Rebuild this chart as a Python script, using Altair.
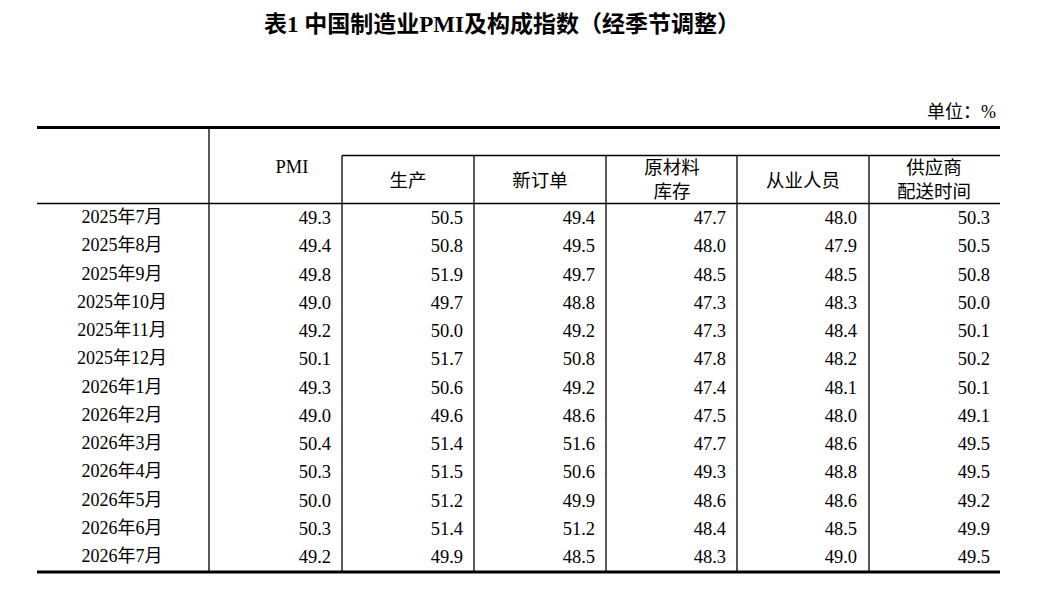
import altair as alt
import pandas as pd

# ---- data ----
months = ["2025年7月", "2025年8月", "2025年9月", "2025年10月", "2025年11月", "2025年12月",
          "2026年1月", "2026年2月", "2026年3月", "2026年4月", "2026年5月", "2026年6月", "2026年7月"]
pmi = [49.3, 49.4, 49.8, 49.0, 49.2, 50.1, 49.3, 49.0, 50.4, 50.3, 50.0, 50.3, 49.2]
production = [50.5, 50.8, 51.9, 49.7, 50.0, 51.7, 50.6, 49.6, 51.4, 51.5, 51.2, 51.4, 49.9]
new_orders = [49.4, 49.5, 49.7, 48.8, 49.2, 50.8, 49.2, 48.6, 51.6, 50.6, 49.9, 51.2, 48.5]
raw_inventory = [47.7, 48.0, 48.5, 47.3, 47.3, 47.8, 47.4, 47.5, 47.7, 49.3, 48.6, 48.4, 48.3]
employment = [48.0, 47.9, 48.5, 48.3, 48.4, 48.2, 48.1, 48.0, 48.6, 48.8, 48.6, 48.5, 49.0]
delivery = [50.3, 50.5, 50.8, 50.0, 50.1, 50.2, 50.1, 49.1, 49.5, 49.5, 49.2, 49.9, 49.5]
series = [pmi, production, new_orders, raw_inventory, employment, delivery]

title_text = "表1 中国制造业PMI及构成指数（经季节调整）"
unit_text = "单位：%"
headers = [["PMI"], ["生产"], ["新订单"], ["原材料", "库存"], ["从业人员"], ["供应商", "配送时间"]]

# ---- layout (pixel grid of the page) ----
FONT = "Liberation Serif, Noto Sans CJK SC, serif"
row_y0, row_step = 218, 28.25
col_right = [331, 463, 595, 726, 857, 990]
col_center = [292, 408, 540, 672, 803, 934]
col_edges = [342, 474, 606, 737, 869]
left, right = 37, 1000

xs = alt.Scale(domain=[8, 1039], zero=False, nice=False)
ys = alt.Scale(domain=[8, 588], zero=False, nice=False, reverse=True)

def X(f="x"):
    return alt.X(f"{f}:Q", scale=xs, axis=None)

def Y(f="y"):
    return alt.Y(f"{f}:Q", scale=ys, axis=None)

# rules
thick = pd.DataFrame({"x": [left, left], "x2": [right, right], "y": [127.5, 572], "y2": [127.5, 572]})
thin_rows = [
    dict(x=342, x2=right, y=155.5, y2=155.5),
    dict(x=left, x2=right, y=203.5, y2=203.5),
    dict(x=209, x2=209, y=127.5, y2=572),
]
for e in col_edges:
    thin_rows.append(dict(x=e, x2=e, y=155.5, y2=572))
thin = pd.DataFrame(thin_rows)

thick_layer = alt.Chart(thick).mark_rule(color="black", strokeWidth=3).encode(
    x=X(), x2="x2:Q", y=Y(), y2="y2:Q")
thin_layer = alt.Chart(thin).mark_rule(color="black", strokeWidth=1.3).encode(
    x=X(), x2="x2:Q", y=Y(), y2="y2:Q")

# month labels
mdf = pd.DataFrame({"label": months, "x": [122] * len(months),
                    "y": [row_y0 + i * row_step for i in range(len(months))]})
month_layer = alt.Chart(mdf).mark_text(font=FONT, fontSize=18, align="center",
                                       baseline="middle", color="black").encode(
    x=X(), y=Y(), text="label:N")

# values
vrows = []
for c, vals in enumerate(series):
    for i, v in enumerate(vals):
        vrows.append(dict(label=f"{v:.1f}", x=col_right[c], y=row_y0 + i * row_step))
vdf = pd.DataFrame(vrows)
val_layer = alt.Chart(vdf).mark_text(font=FONT, fontSize=18.5, align="right",
                                     baseline="middle", color="black").encode(
    x=X(), y=Y(), text="label:N")

# headers
hrows = []
for c, lines in enumerate(headers):
    if c == 0:
        ys_ = [167]
    elif len(lines) == 1:
        ys_ = [181]
    else:
        ys_ = [168, 192]
    for ln, yy in zip(lines, ys_):
        hrows.append(dict(label=ln, x=col_center[c], y=yy))
hdf = pd.DataFrame(hrows)
head_layer = alt.Chart(hdf).mark_text(font=FONT, fontSize=18.5, align="center",
                                      baseline="middle", color="black").encode(
    x=X(), y=Y(), text="label:N")

# title & unit
tdf = pd.DataFrame({"label": [title_text], "x": [502], "y": [25]})
title_layer = alt.Chart(tdf).mark_text(font=FONT, fontSize=23, fontWeight="bold",
                                       align="center", baseline="middle", color="black").encode(
    x=X(), y=Y(), text="label:N")
udf = pd.DataFrame({"label": [unit_text], "x": [996], "y": [113]})
unit_layer = alt.Chart(udf).mark_text(font=FONT, fontSize=18, align="right",
                                      baseline="middle", color="black").encode(
    x=X(), y=Y(), text="label:N")

chart = alt.layer(thick_layer, thin_layer, month_layer, val_layer, head_layer,
                  title_layer, unit_layer).properties(
    width=1031, height=580, padding=0, autosize=alt.AutoSizeParams(type="none"),
    background="white"
).configure_view(stroke=None)

chart.save("out.html", embed_options={"renderer": "svg", "actions": False})
